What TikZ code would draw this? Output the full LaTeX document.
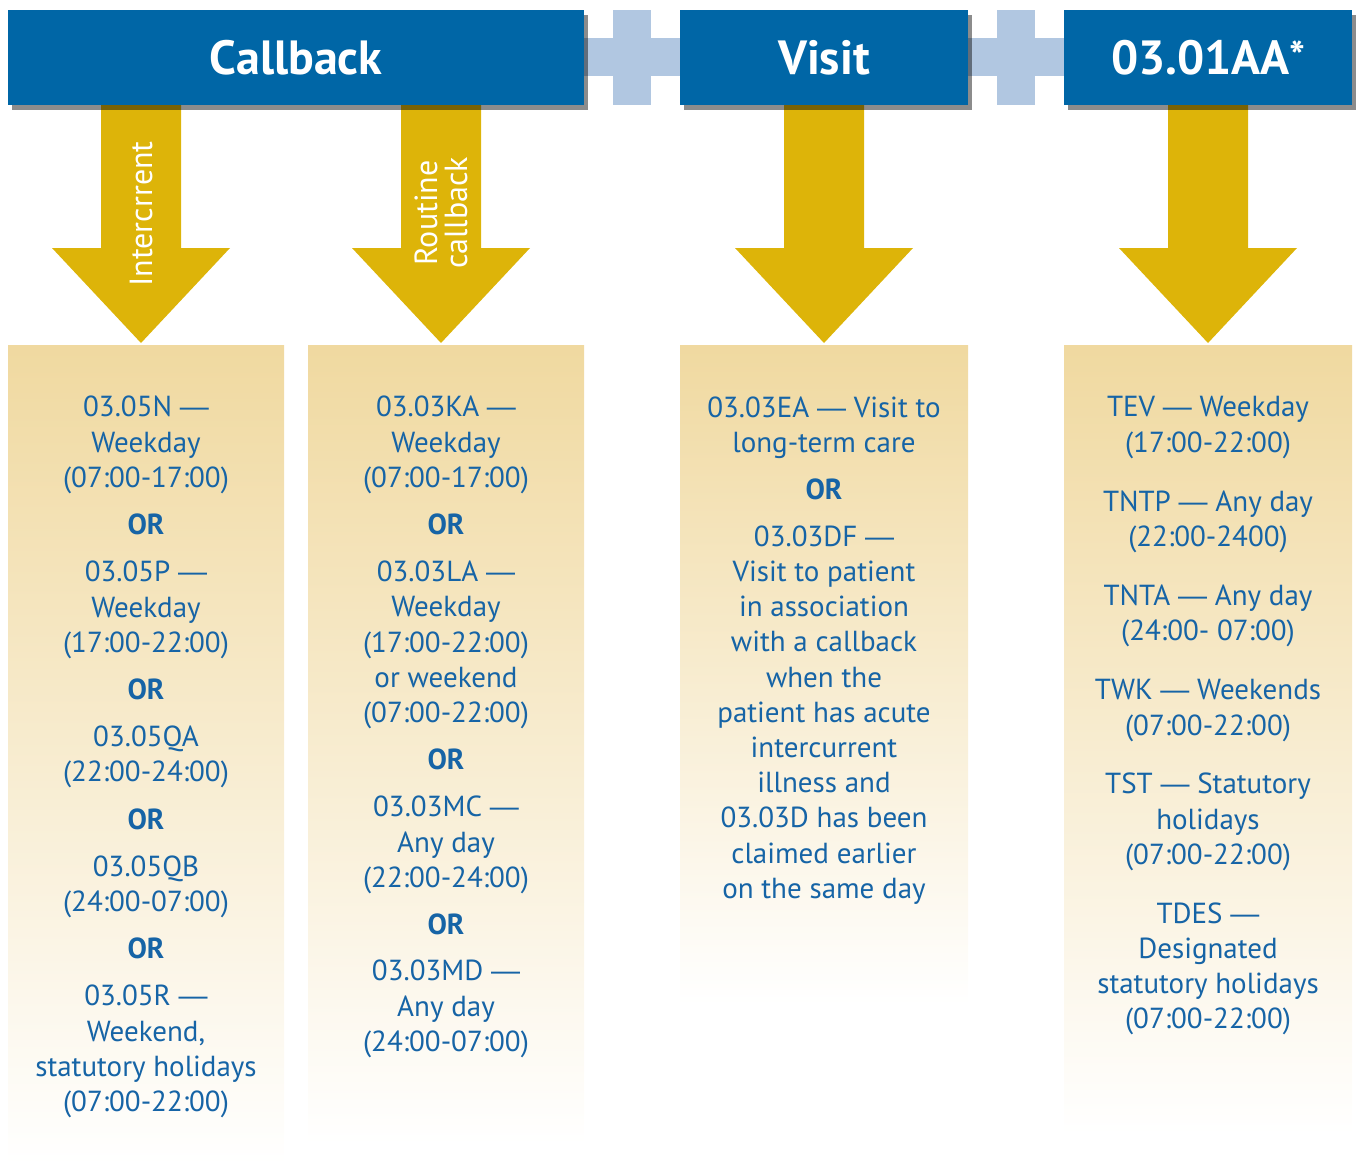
\documentclass[tikz,border=0pt]{standalone}
\usepackage{fontspec}
\setmainfont{PT Sans}
\newfontfamily\dashfont{Liberation Sans}
\newcommand{\md}{{\dashfont —}}
\usetikzlibrary{shadows}
\definecolor{hdrblue}{HTML}{0066A6}
\definecolor{plusblue}{HTML}{B1C7E1}
\definecolor{gold}{HTML}{DDB409}
\definecolor{tan}{HTML}{F0D9A0}
\definecolor{txtblue}{HTML}{1664A6}
\begin{document}
\begin{tikzpicture}[x=1pt,y=-1pt,
  hdr/.style={fill=hdrblue, text=white, inner sep=0pt, minimum height=95pt,
    font=\fontsize{48}{50}\selectfont\bfseries,
    drop shadow={shadow xshift=4pt, shadow yshift=-5pt, fill=black, opacity=0.45}},
  body/.style={text=txtblue, align=center, inner sep=0pt, yshift=-3pt, font=\fontsize{29}{35.2}\selectfont},
  orlbl/.style={text=txtblue, inner sep=0pt, font=\fontsize{29}{35}\selectfont\bfseries},
  arrlbl/.style={text=white, align=center, inner sep=0pt, rotate=90, font=\fontsize{32}{30}\selectfont},
  plus/.style={fill=plusblue},
  arr/.style={fill=gold},
]
\useasboundingbox (0,0) rectangle (1356,1165);

% panels
\shade[top color=tan, bottom color=white] (8,345) rectangle (284,1165);
\shade[top color=tan, bottom color=white] (308,345) rectangle (584,1145);
\shade[top color=tan, bottom color=white] (680,345) rectangle (968,1005);
\shade[top color=tan, bottom color=white] (1064,345) rectangle (1352,1135);

% plus connectors
\fill[plus] (613,10) rectangle (651,105);
\fill[plus] (584,38) rectangle (680,76);
\fill[plus] (997,10) rectangle (1035,105);
\fill[plus] (968,38) rectangle (1064,76);

% block arrows
\foreach \cx in {141,441,824,1208}{
  \fill[arr] (\cx-40,100) -- (\cx+40,100) -- (\cx+40,248) -- (\cx+89,248) -- (\cx,343)
     -- (\cx-89,248) -- (\cx-40,248) -- cycle;
}
\node[arrlbl] (lint) at (141,214) {Intercrrent};
\node[arrlbl] (lrout) at (441,213) {Routine\\callback};

% headers
\node[hdr, minimum width=576pt] (cb) at (296,57.5) {Callback};
\node[hdr, minimum width=288pt] (vis) at (824,57.5) {Visit};
\node[hdr, minimum width=288pt] (aa) at (1208,57.5) {03.01AA\raisebox{3pt}{\fontsize{42}{42}\selectfont *}};

% column 1
\node[body] (c1a) at (146,442) {03.05N \md\\Weekday\\(07:00-17:00)};
\node[orlbl] (c1o1) at (146,524) {OR};
\node[body] (c1b) at (146,607) {03.05P \md\\Weekday\\(17:00-22:00)};
\node[orlbl] (c1o2) at (146,689) {OR};
\node[body] (c1c) at (146,753.5) {03.05QA\\(22:00-24:00)};
\node[orlbl] (c1o3) at (146,819) {OR};
\node[body] (c1d) at (146,883.5) {03.05QB\\(24:00-07:00)};
\node[orlbl] (c1o4) at (146,948) {OR};
\node[body] (c1e) at (146,1048.5) {03.05R \md\\Weekend,\\statutory holidays\\(07:00-22:00)};

% column 2
\node[body] (c2a) at (446,442) {03.03KA \md\\Weekday\\(07:00-17:00)};
\node[orlbl] (c2o1) at (446,524) {OR};
\node[body] (c2b) at (446,642) {03.03LA \md\\Weekday\\(17:00-22:00)\\or weekend\\(07:00-22:00)};
\node[orlbl] (c2o2) at (446,759) {OR};
\node[body] (c2c) at (446,842) {03.03MC \md\\Any day\\(22:00-24:00)};
\node[orlbl] (c2o3) at (446,924) {OR};
\node[body] (c2d) at (446,1006) {03.03MD \md\\Any day\\(24:00-07:00)};

% column 3
\node[body] (c3a) at (824,424.5) {03.03EA \md{} Visit to\\long-term care};
\node[orlbl] (c3o1) at (824,489) {OR};
\node[body] (c3b) at (824,712) {03.03DF \md\\Visit to patient\\in association\\with a callback\\when the\\patient has acute\\intercurrent\\illness and\\03.03D has been\\claimed earlier\\on the same day};

% column 4
\node[body] (c4a) at (1208,424.5) {TEV \md{} Weekday\\(17:00-22:00)};
\node[body] (c4b) at (1208,518.5) {TNTP \md{} Any day\\(22:00-2400)};
\node[body] (c4c) at (1208,612.5) {TNTA \md{} Any day\\(24:00- 07:00)};
\node[body] (c4d) at (1208,707.5) {TWK \md{} Weekends\\(07:00-22:00)};
\node[body] (c4e) at (1208,819) {TST \md{} Statutory\\holidays\\(07:00-22:00)};
\node[body] (c4f) at (1208,966) {TDES \md\\Designated\\statutory holidays\\(07:00-22:00)};
\end{tikzpicture}
\end{document}
